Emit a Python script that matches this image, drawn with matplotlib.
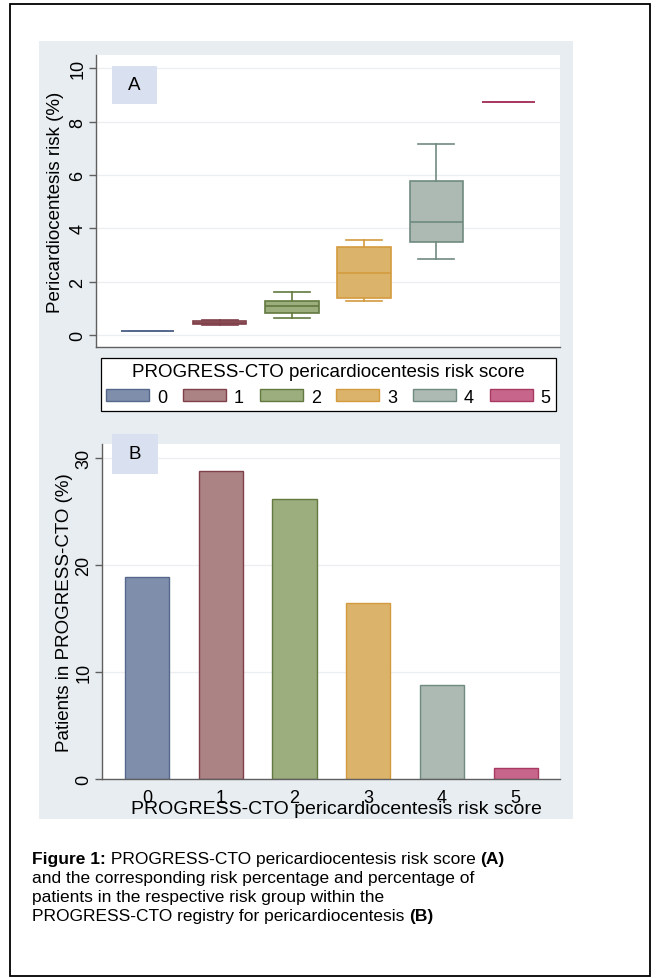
import matplotlib
matplotlib.use('Agg')
import matplotlib.pyplot as plt
from matplotlib.patches import Rectangle, Patch

plt.rcParams['font.family'] = ['Liberation Sans', 'DejaVu Sans']

W, H = 656, 979

# data
scores = [0, 1, 2, 3, 4, 5]
score_labels = ['0', '1', '2', '3', '4', '5']
# panel A: pericardiocentesis risk (%) box summaries
risk_lo = [0.16, 0.38, 0.62, 1.27, 2.85, 8.74]
risk_q1 = [0.16, 0.40, 0.82, 1.37, 3.47, 8.74]
risk_med = [0.16, 0.45, 1.10, 2.31, 4.22, 8.74]
risk_q3 = [0.16, 0.52, 1.28, 3.31, 5.76, 8.74]
risk_hi = [0.16, 0.58, 1.60, 3.56, 7.18, 8.74]
# panel B: patients in PROGRESS-CTO (%)
patients_pct = [18.9, 28.8, 26.2, 16.4, 8.8, 1.0]

fill_colors = ['#7f8eaa', '#ab8385', '#9cad7e', '#dcb36b', '#adbab3', '#c7668a']
edge_colors = ['#56688c', '#80404a', '#62793f', '#d39b3e', '#6f8a80', '#a83a62']
line_gray = '#5f5f5f'
grid_col = '#eceff2'


def fx(px):
    return px / W


def fy(py):
    return 1 - py / H


def rect(l, t, r, b):
    return [fx(l), fy(b), (r - l) / W, (b - t) / H]


fig = plt.figure(figsize=(W / 100, H / 100), dpi=100)

# outer frame and grey graph region
fig.patches.append(Rectangle((fx(10), fy(977)), 640 / W, 972 / H,
                             transform=fig.transFigure, fill=False,
                             ec='black', lw=1.3, zorder=-2))
fig.patches.append(Rectangle((fx(39), fy(820)), 534 / W, 778 / H,
                             transform=fig.transFigure, fc='#e8edf1',
                             ec='none', zorder=-1))

# ---------------- panel A: box plot ----------------
axA = fig.add_axes(rect(96, 56, 560, 348))
axA.set_facecolor('white')
stats = []
for i in range(len(scores)):
    stats.append(dict(med=risk_med[i], q1=risk_q1[i], q3=risk_q3[i],
                      whislo=risk_lo[i], whishi=risk_hi[i], fliers=[]))
bp = axA.bxp(stats, positions=scores, widths=0.74, capwidths=0.5,
             patch_artist=True, showfliers=False, manage_ticks=False)
for i in range(len(scores)):
    bp['boxes'][i].set(facecolor=fill_colors[i], edgecolor=edge_colors[i], lw=1.2)
    bp['medians'][i].set(color=edge_colors[i], lw=1.2)
    for k in (2 * i, 2 * i + 1):
        bp['whiskers'][k].set(color=edge_colors[i], lw=1.2)
        bp['caps'][k].set(color=edge_colors[i], lw=1.2)
axA.set_xlim(-0.713, 5.713)
axA.set_ylim(-0.45, 10.5)
axA.set_xticks([])
axA.set_yticks([0, 2, 4, 6, 8, 10])
axA.grid(axis='y', color=grid_col, lw=0.9)
axA.set_axisbelow(True)
for s in ('top', 'right'):
    axA.spines[s].set_visible(False)
for s in ('left', 'bottom'):
    axA.spines[s].set(color=line_gray, lw=1.0)
axA.tick_params(axis='y', labelrotation=90, length=5, width=1, color=line_gray,
                pad=2, labelsize=13)
plt.setp(axA.get_yticklabels(), va='center')
axA.set_ylabel('Pericardiocentesis risk (%)', fontsize=13.5, va='center')
axA.yaxis.set_label_coords((56 - 96) / 464, 0.5)

# ---------------- legend ----------------
handles = [Patch(facecolor=fill_colors[i], edgecolor=edge_colors[i], lw=1,
                 label=score_labels[i]) for i in range(len(scores))]
leg = fig.legend(handles=handles, loc='center',
                 bbox_to_anchor=(fx(328.5), fy(385.5)), ncol=6,
                 title='PROGRESS-CTO pericardiocentesis risk score',
                 fontsize=13, title_fontsize=13.5, handlelength=2.38,
                 handleheight=0.66, handletextpad=0.44, columnspacing=0.87,
                 borderpad=0.3, labelspacing=0.45, fancybox=False,
                 edgecolor='black', framealpha=1)
leg.get_frame().set_linewidth(0.9)

# ---------------- panel B: bars ----------------
axB = fig.add_axes(rect(102, 445, 560, 780))
axB.set_facecolor('white')
axB.bar(scores, patients_pct, width=0.6, color=fill_colors,
        edgecolor=edge_colors, lw=1.0)
axB.set_xlim(-0.61, 5.6)
axB.set_ylim(0, 31.3)
axB.set_xticks(scores)
axB.set_xticklabels(score_labels)
axB.set_yticks([0, 10, 20, 30])
axB.grid(axis='y', color=grid_col, lw=0.9)
axB.set_axisbelow(True)
for s in ('top', 'right'):
    axB.spines[s].set_visible(False)
for s in ('left', 'bottom'):
    axB.spines[s].set(color=line_gray, lw=1.0)
axB.tick_params(axis='x', length=0, pad=7, labelsize=13)
axB.tick_params(axis='y', labelrotation=90, length=5, width=1, color=line_gray,
                pad=2, labelsize=13)
plt.setp(axB.get_yticklabels(), va='center')
axB.set_ylabel('Patients in PROGRESS-CTO (%)', fontsize=13.5, va='center')
axB.yaxis.set_label_coords((65 - 102) / 458, 0.5)
axB.set_xlabel('PROGRESS-CTO pericardiocentesis risk score', fontsize=14,
               va='center')
axB.xaxis.set_label_coords((336 - 102) / 458, -(809 - 780) / 335)

# panel letters
for (l, t, r, b, letter) in [(112, 67, 157, 105, 'A'), (112, 435, 158, 475, 'B')]:
    fig.patches.append(Rectangle((fx(l), fy(b)), (r - l) / W, (b - t) / H,
                                 transform=fig.transFigure, fc='#d9e0ef',
                                 ec='none', zorder=5))
    fig.text(fx((l + r) / 2), fy((t + b) / 2), letter, fontsize=13.5,
             ha='center', va='center', zorder=6)

# ---------------- caption ----------------
axc = fig.add_axes([0, 0, 1, 1])
axc.axis('off')
cap_size = 12.5
baselines = [864.5, 883.5, 902.5, 921.5]
lines = [
    [('Figure 1:', 'bold'), (' PROGRESS-CTO pericardiocentesis risk score ', 'normal'), ('(A)', 'bold')],
    [('and the corresponding risk percentage and percentage of', 'normal')],
    [('patients in the respective risk group within the', 'normal')],
    [('PROGRESS-CTO registry for pericardiocentesis ', 'normal'), ('(B)', 'bold')],
]
for yb, parts in zip(baselines, lines):
    prev = None
    for txt, wt in parts:
        if prev is None:
            prev = axc.text(fx(32), fy(yb), txt, fontsize=cap_size, weight=wt,
                            ha='left', va='baseline', transform=fig.transFigure)
        else:
            prev = axc.annotate(txt, xy=(1, 0), xycoords=prev, fontsize=cap_size,
                                weight=wt, ha='left', va='bottom')

fig.savefig('out.png', dpi=100)
